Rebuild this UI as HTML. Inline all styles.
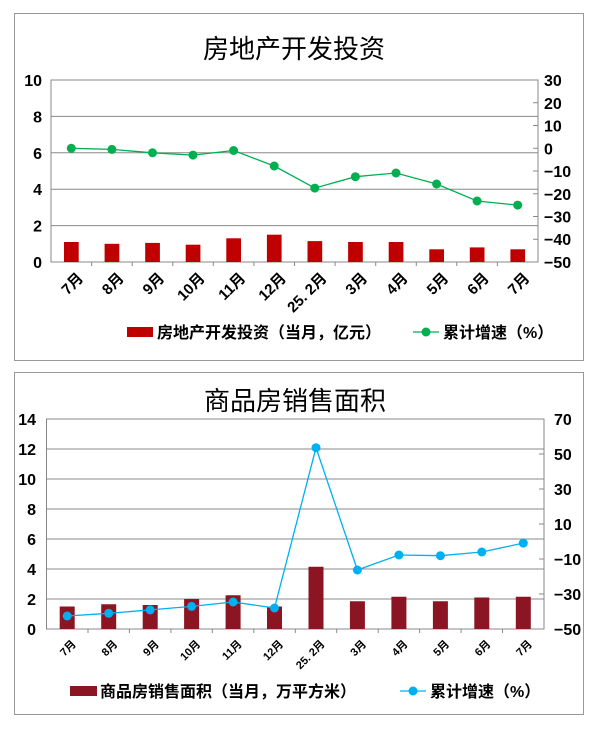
<!DOCTYPE html>
<html><head><meta charset="utf-8"><style>
body{margin:0;background:#fff}
text{font-family:"Liberation Sans","Noto Sans CJK SC",sans-serif;fill:#000;font-weight:bold}
.t{font-weight:normal}
.gl{stroke:#888;stroke-width:1}
</style></head><body>
<svg width="600" height="729" xmlns="http://www.w3.org/2000/svg">
<rect x="14.5" y="13.5" width="569" height="347" fill="none" stroke="#999"/>
<rect x="14.5" y="372.5" width="569" height="342" fill="none" stroke="#999"/>

<!-- Chart 1 -->
<text class="t" x="294" y="58" font-size="26" text-anchor="middle">房地产开发投资</text>
<g class="gl">
<line x1="51" x2="538" y1="225.6" y2="225.6"/><line x1="51" x2="538" y1="189.2" y2="189.2"/>
<line x1="51" x2="538" y1="152.8" y2="152.8"/><line x1="51" x2="538" y1="116.4" y2="116.4"/>
<rect x="51" y="80" width="487" height="182" fill="none"/>
<line x1="538" x2="533" y1="239.25" y2="239.25"/><line x1="538" x2="533" y1="216.5" y2="216.5"/>
<line x1="538" x2="533" y1="193.75" y2="193.75"/><line x1="538" x2="533" y1="171" y2="171"/>
<line x1="538" x2="533" y1="148.25" y2="148.25"/><line x1="538" x2="533" y1="125.5" y2="125.5"/>
<line x1="538" x2="533" y1="102.75" y2="102.75"/>
<line x1="91.6" x2="91.6" y1="262" y2="266"/><line x1="132.2" x2="132.2" y1="262" y2="266"/>
<line x1="172.8" x2="172.8" y1="262" y2="266"/><line x1="213.3" x2="213.3" y1="262" y2="266"/>
<line x1="253.9" x2="253.9" y1="262" y2="266"/><line x1="294.5" x2="294.5" y1="262" y2="266"/>
<line x1="335.1" x2="335.1" y1="262" y2="266"/><line x1="375.7" x2="375.7" y1="262" y2="266"/>
<line x1="416.3" x2="416.3" y1="262" y2="266"/><line x1="456.8" x2="456.8" y1="262" y2="266"/>
<line x1="497.4" x2="497.4" y1="262" y2="266"/>
</g>
<g font-size="16" text-anchor="end">
<text x="42" y="268">0</text><text x="42" y="231.6">2</text><text x="42" y="195.2">4</text>
<text x="42" y="158.8">6</text><text x="42" y="122.4">8</text><text x="42" y="86">10</text>
</g>
<g font-size="16">
<text x="544" y="268">−50</text><text x="544" y="245">−40</text><text x="544" y="222.5">−30</text>
<text x="544" y="199.75">−20</text><text x="544" y="177">−10</text><text x="544" y="154.25">0</text>
<text x="544" y="131.5">10</text><text x="544" y="108.75">20</text><text x="544" y="86">30</text>
</g>
<g fill="#c00000">
<rect x="64" y="242" width="14.7" height="20"/><rect x="104.6" y="243.8" width="14.7" height="18.2"/>
<rect x="145.2" y="242.9" width="14.7" height="19.1"/><rect x="185.7" y="244.7" width="14.7" height="17.3"/>
<rect x="226.3" y="238.3" width="14.7" height="23.7"/><rect x="266.9" y="234.7" width="14.7" height="27.3"/>
<rect x="307.5" y="241.1" width="14.7" height="20.9"/><rect x="348.1" y="242" width="14.7" height="20"/>
<rect x="388.7" y="242" width="14.7" height="20"/><rect x="429.3" y="249.3" width="14.7" height="12.7"/>
<rect x="469.8" y="247.4" width="14.7" height="14.6"/><rect x="510.4" y="249.3" width="14.7" height="12.7"/>
</g>
<polyline points="71.3,148.3 111.9,149.4 152.5,152.8 193,155.1 233.6,150.5 274.2,166 314.8,188.1 355.4,176.7 396,173 436.6,184 477.1,201 517.7,205.1" fill="none" stroke="#00b050" stroke-width="1.3"/>
<g fill="#00b050">
<circle cx="71.3" cy="148.3" r="4.5"/><circle cx="111.9" cy="149.4" r="4.5"/><circle cx="152.5" cy="152.8" r="4.5"/>
<circle cx="193" cy="155.1" r="4.5"/><circle cx="233.6" cy="150.5" r="4.5"/><circle cx="274.2" cy="166" r="4.5"/>
<circle cx="314.8" cy="188.1" r="4.5"/><circle cx="355.4" cy="176.7" r="4.5"/><circle cx="396" cy="173" r="4.5"/>
<circle cx="436.6" cy="184" r="4.5"/><circle cx="477.1" cy="201" r="4.5"/><circle cx="517.7" cy="205.1" r="4.5"/>
</g>
<g font-size="15" text-anchor="end">
<text transform="translate(77,272) rotate(-45)" dy="10">7月</text>
<text transform="translate(117.6,272) rotate(-45)" dy="10">8月</text>
<text transform="translate(158.2,272) rotate(-45)" dy="10">9月</text>
<text transform="translate(198.7,272) rotate(-45)" dy="10">10月</text>
<text transform="translate(239.3,272) rotate(-45)" dy="10">11月</text>
<text transform="translate(279.9,272) rotate(-45)" dy="10">12月</text>
<text transform="translate(320.5,272) rotate(-45)" dy="10">25. 2月</text>
<text transform="translate(361.1,272) rotate(-45)" dy="10">3月</text>
<text transform="translate(401.7,272) rotate(-45)" dy="10">4月</text>
<text transform="translate(442.3,272) rotate(-45)" dy="10">5月</text>
<text transform="translate(482.8,272) rotate(-45)" dy="10">6月</text>
<text transform="translate(523.4,272) rotate(-45)" dy="10">7月</text>
</g>
<rect x="127" y="327" width="26" height="10" fill="#c00000"/>
<text x="157" y="338" font-size="16">房地产开发投资（当月，亿元）</text>
<line x1="413" x2="439" y1="332" y2="332" stroke="#00b050" stroke-width="1.3"/><circle cx="426" cy="332" r="4.5" fill="#00b050"/>
<text x="443" y="338" font-size="16">累计增速（%）</text>

<!-- Chart 2 -->
<text class="t" x="295" y="410" font-size="26" text-anchor="middle">商品房销售面积</text>
<g class="gl">
<line x1="46.5" x2="544" y1="599" y2="599"/><line x1="46.5" x2="544" y1="569" y2="569"/>
<line x1="46.5" x2="544" y1="539" y2="539"/><line x1="46.5" x2="544" y1="509" y2="509"/>
<line x1="46.5" x2="544" y1="479" y2="479"/><line x1="46.5" x2="544" y1="449" y2="449"/>
<rect x="46.5" y="419" width="497.5" height="210" fill="none"/>
<line x1="544" x2="539" y1="594" y2="594"/><line x1="544" x2="539" y1="559" y2="559"/>
<line x1="544" x2="539" y1="524" y2="524"/><line x1="544" x2="539" y1="489" y2="489"/>
<line x1="544" x2="539" y1="454" y2="454"/>
<line x1="88" x2="88" y1="629" y2="633"/><line x1="129.4" x2="129.4" y1="629" y2="633"/>
<line x1="170.9" x2="170.9" y1="629" y2="633"/><line x1="212.3" x2="212.3" y1="629" y2="633"/>
<line x1="253.8" x2="253.8" y1="629" y2="633"/><line x1="295.3" x2="295.3" y1="629" y2="633"/>
<line x1="336.7" x2="336.7" y1="629" y2="633"/><line x1="378.2" x2="378.2" y1="629" y2="633"/>
<line x1="419.6" x2="419.6" y1="629" y2="633"/><line x1="461.1" x2="461.1" y1="629" y2="633"/>
<line x1="502.5" x2="502.5" y1="629" y2="633"/>
</g>
<g font-size="16" text-anchor="end">
<text x="36" y="635">0</text><text x="36" y="605">2</text><text x="36" y="575">4</text>
<text x="36" y="545">6</text><text x="36" y="515">8</text><text x="36" y="485">10</text>
<text x="36" y="455">12</text><text x="36" y="425">14</text>
</g>
<g font-size="16">
<text x="554" y="635">−50</text><text x="554" y="600">−30</text><text x="554" y="565">−10</text>
<text x="554" y="530">10</text><text x="554" y="495">30</text><text x="554" y="460">50</text><text x="554" y="425">70</text>
</g>
<g fill="#8b1523">
<rect x="59.7" y="606.5" width="15" height="22.5"/><rect x="101.2" y="604.25" width="15" height="24.75"/>
<rect x="142.7" y="605" width="15" height="24"/><rect x="184.1" y="599" width="15" height="30"/>
<rect x="225.6" y="595.25" width="15" height="33.75"/><rect x="267" y="606.5" width="15" height="22.5"/>
<rect x="308.5" y="566.75" width="15" height="62.25"/><rect x="349.9" y="601.25" width="15" height="27.75"/>
<rect x="391.4" y="596.75" width="15" height="32.25"/><rect x="432.9" y="601.25" width="15" height="27.75"/>
<rect x="474.3" y="597.5" width="15" height="31.5"/><rect x="515.8" y="596.75" width="15" height="32.25"/>
</g>
<polyline points="67.2,616 108.7,613.3 150.2,609.9 191.6,606.4 233.1,602 274.5,608 316,447.7 357.4,570 398.9,555 440.4,555.7 481.8,552 523.3,543.1" fill="none" stroke="#00b0f0" stroke-width="1.3"/>
<g fill="#00b0f0">
<circle cx="67.2" cy="616" r="4.5"/><circle cx="108.7" cy="613.3" r="4.5"/><circle cx="150.2" cy="609.9" r="4.5"/>
<circle cx="191.6" cy="606.4" r="4.5"/><circle cx="233.1" cy="602" r="4.5"/><circle cx="274.5" cy="608" r="4.5"/>
<circle cx="316" cy="447.7" r="4.5"/><circle cx="357.4" cy="570" r="4.5"/><circle cx="398.9" cy="555" r="4.5"/>
<circle cx="440.4" cy="555.7" r="4.5"/><circle cx="481.8" cy="552" r="4.5"/><circle cx="523.3" cy="543.1" r="4.5"/>
</g>
<g font-size="11" text-anchor="end">
<text transform="translate(71,639) rotate(-45)" dy="8">7月</text>
<text transform="translate(112.5,639) rotate(-45)" dy="8">8月</text>
<text transform="translate(154,639) rotate(-45)" dy="8">9月</text>
<text transform="translate(195.4,639) rotate(-45)" dy="8">10月</text>
<text transform="translate(236.9,639) rotate(-45)" dy="8">11月</text>
<text transform="translate(278.3,639) rotate(-45)" dy="8">12月</text>
<text transform="translate(319.8,639) rotate(-45)" dy="8">25. 2月</text>
<text transform="translate(361.2,639) rotate(-45)" dy="8">3月</text>
<text transform="translate(402.7,639) rotate(-45)" dy="8">4月</text>
<text transform="translate(444.2,639) rotate(-45)" dy="8">5月</text>
<text transform="translate(485.6,639) rotate(-45)" dy="8">6月</text>
<text transform="translate(527.1,639) rotate(-45)" dy="8">7月</text>
</g>
<rect x="70" y="686" width="27" height="10" fill="#8b1523"/>
<text x="100" y="697" font-size="16">商品房销售面积（当月，万平方米）</text>
<line x1="400" x2="426" y1="691" y2="691" stroke="#00b0f0" stroke-width="1.3"/><circle cx="413" cy="691" r="4.5" fill="#00b0f0"/>
<text x="430" y="697" font-size="16">累计增速（%）</text>
</svg>
</body></html>
